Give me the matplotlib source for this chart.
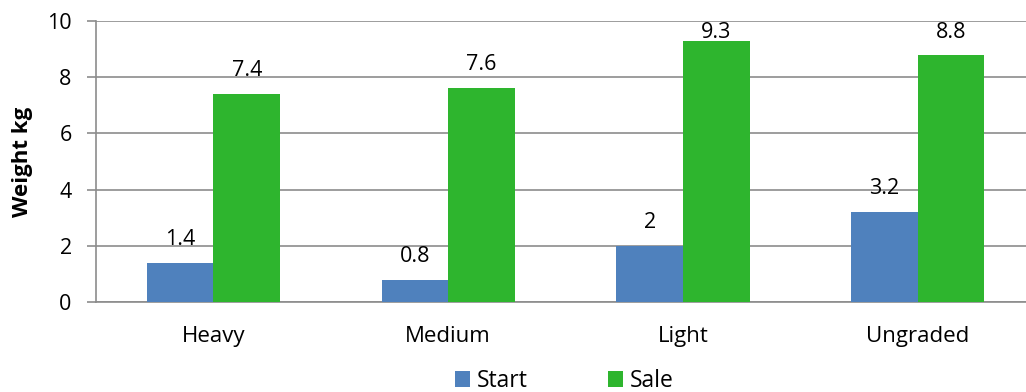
import matplotlib
matplotlib.use("Agg")
import matplotlib.pyplot as plt
import numpy as np

categories = ["Heavy", "Medium", "Light", "Ungraded"]
start = [1.4, 0.8, 2, 3.2]
sale = [7.4, 7.6, 9.3, 8.8]
series_names = ["Start", "Sale"]
colors = ["#4F81BD", "#2EB52E"]

plt.rcParams['font.family'] = ['Open Sans', 'DejaVu Sans']

W, H = 1026, 392
fig = plt.figure(figsize=(W / 100, H / 100), dpi=100)
# plot area in pixels: left 96, right edge of figure, top 21, bottom 302
ax = fig.add_axes([96 / W, (H - 302) / H, (W - 96) / W, (302 - 21) / H])

x = np.arange(len(categories))
w = 0.284
b1 = ax.bar(x - w / 2, start, w, color=colors[0], label=series_names[0], zorder=3)
b2 = ax.bar(x + w / 2, sale, w, color=colors[1], label=series_names[1], zorder=3)

# value labels ~18px above bar tops, kept inside the plot area
px = 10 / 281
for bars, vals in [(b1, start), (b2, sale)]:
    for bar, v in zip(bars, vals):
        ylab = min(v + 18 * px, 10 - 16.5 * px)
        ax.text(bar.get_x() + bar.get_width() / 2, ylab, f"{v:g}",
                ha="center", va="baseline", fontsize=15.5, zorder=4)

ax.set_xlim(-0.5, -0.5 + (W - 96) / 234.8)
ax.set_ylim(0, 10)
ax.set_yticks(range(0, 11, 2))
ax.set_xticks(x)
ax.set_xticklabels(categories)
ax.tick_params(axis='y', length=6.5, width=1.2, color='#8C8C8C', labelsize=15.5, pad=11)
ax.tick_params(axis='x', length=0, labelsize=16, pad=17)
ax.yaxis.grid(True, color='#8C8C8C', linewidth=1.2, zorder=0)
for s in ['top', 'right']:
    ax.spines[s].set_visible(False)
for s in ['left', 'bottom']:
    ax.spines[s].set_color('#8C8C8C')
    ax.spines[s].set_linewidth(1.2)
ax.set_ylabel("Weight kg", fontsize=16, fontweight='bold')
ax.yaxis.set_label_coords((33 - 96) / (W - 96), 0.5)

fig.legend(loc='lower center', bbox_to_anchor=(564 / W, -1 / H), ncol=2, frameon=False,
           fontsize=16.5, handlelength=0.65, handleheight=0.65, handletextpad=0.3,
           columnspacing=3.5, borderpad=0, borderaxespad=0)

fig.savefig("out.png", dpi=100)
